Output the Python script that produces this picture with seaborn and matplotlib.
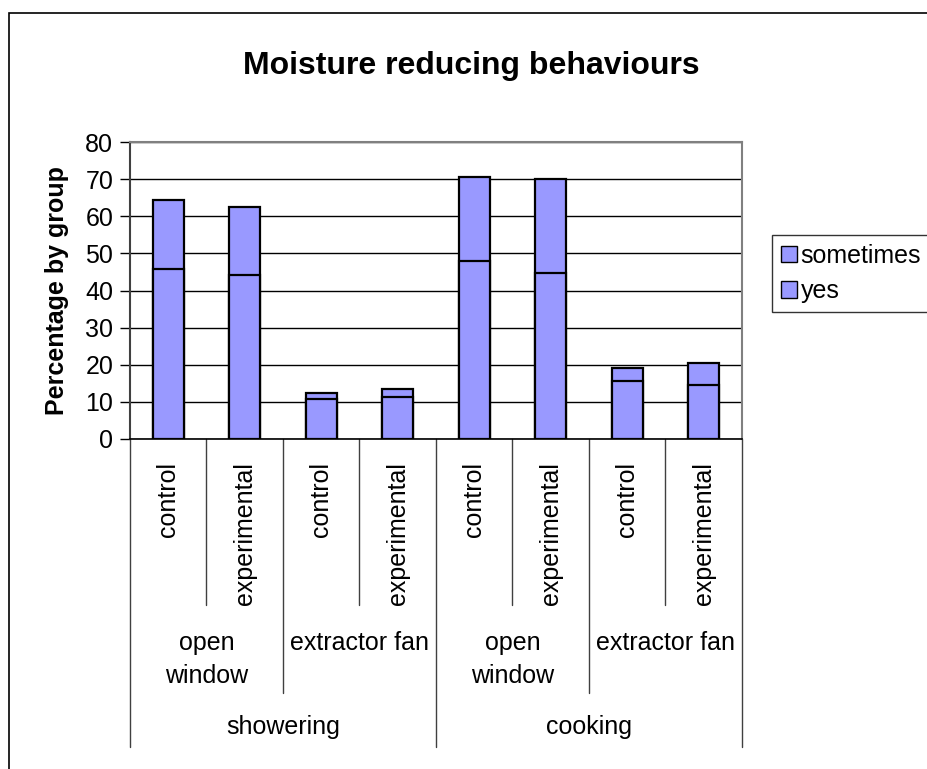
import matplotlib
matplotlib.use("Agg")
import matplotlib.pyplot as plt
import matplotlib.patches as mpatches
import seaborn as sns
import pandas as pd

# datos
activity  = ['showering'] * 4 + ['cooking'] * 4
method    = ['open\nwindow', 'open\nwindow', 'extractor fan', 'extractor fan'] * 2
group     = ['control', 'experimental'] * 4
yes       = [45.9, 44.1, 10.7, 11.2, 47.9, 44.6, 15.7, 14.5]
sometimes = [18.6, 18.3, 1.6, 2.2, 22.6, 25.3, 3.5, 5.9]

df = pd.DataFrame({'activity': activity, 'method': method, 'group': group,
                   'yes': yes, 'sometimes': sometimes})
df['key'] = df['activity'] + '|' + df['method'] + '|' + df['group']
df['total'] = df['yes'] + df['sometimes']
order = list(df['key'])

sns.set_style("white")
plt.rcParams['font.family'] = ['Liberation Sans', 'DejaVu Sans']
plt.rcParams['text.color'] = 'black'
plt.rcParams['axes.labelcolor'] = 'black'
plt.rcParams['ytick.color'] = 'black'

fill = '#9999FF'
W, H = 928, 769
fig = plt.figure(figsize=(W / 100, H / 100), dpi=100)
ax = fig.add_axes([130 / W, 1 - 439 / H, 612 / W, 297 / H])

# barras apiladas: total (sometimes) y encima la parte "yes"
sns.barplot(data=df, x='key', y='total', order=order, color=fill, width=0.4,
            edgecolor='black', linewidth=1.6, saturation=1, ax=ax)
sns.barplot(data=df, x='key', y='yes', order=order, color=fill, width=0.4,
            edgecolor='black', linewidth=1.6, saturation=1, ax=ax)

ax.set_ylim(0, 80)
ax.set_xlim(-0.5, len(order) - 0.5)
ax.set_yticks(range(0, 81, 10))
ax.tick_params(axis='y', labelsize=18, length=7, width=1, direction='out', left=True,
               pad=5, colors='black')
ax.set_xticks([])
ax.set_xlabel('')
ax.set_ylabel('Percentage by group', fontsize=18, fontweight='bold', labelpad=12,
              color='black')
ax.grid(axis='y', color='black', linewidth=1)
ax.set_axisbelow(True)
for s in ['top', 'right']:
    ax.spines[s].set_color('#808080')
    ax.spines[s].set_linewidth(1.5)
ax.spines['left'].set_color('#404040')
ax.spines['left'].set_linewidth(1.5)
ax.spines['bottom'].set_color('black')
ax.spines['bottom'].set_linewidth(1.2)

# eje de categorias multinivel
tr = ax.get_xaxis_transform()
n = len(order)
for i in range(n + 1):
    x = i - 0.5
    if i == 0 or i == n or activity[i] != activity[i - 1]:
        y_end = -1.037
    elif method[i] != method[i - 1]:
        y_end = -0.855
    else:
        y_end = -0.559
    ax.plot([x, x], [0, y_end], color='#404040', lw=1, transform=tr, clip_on=False)

for i, g in enumerate(group):
    ax.text(i, -0.077, g, rotation=90, ha='center', va='top', fontsize=18,
            color='black', transform=tr)

def spans(vals, keys):
    res = []
    start = 0
    for i in range(1, len(vals) + 1):
        if i == len(vals) or keys[i] != keys[start]:
            res.append((vals[start], (start + i - 1) / 2))
            start = i
    return res

mkeys = [a + m for a, m in zip(activity, method)]
for lab, xc in spans(method, mkeys):
    ax.text(xc, -0.647, lab, ha='center', va='top', fontsize=18, color='black',
            linespacing=1.48, transform=tr)
for lab, xc in spans(activity, activity):
    ax.text(xc, -0.97, lab, ha='center', va='center', fontsize=18, color='black',
            transform=tr)

fig.text(471 / W, 1 - 66 / H, 'Moisture reducing behaviours', ha='center', va='center',
         fontsize=23, fontweight='bold', color='black')

handles = [mpatches.Patch(facecolor=fill, edgecolor='black', linewidth=1, label='sometimes'),
           mpatches.Patch(facecolor=fill, edgecolor='black', linewidth=1, label='yes')]
leg = fig.legend(handles=handles, loc='upper left', bbox_to_anchor=(772 / W, 1 - 235 / H),
                 fontsize=18, frameon=True, fancybox=False, borderpad=0.35,
                 handlelength=0.65, handleheight=0.65, handletextpad=0.15,
                 labelspacing=0.45, borderaxespad=0)
leg.get_frame().set_edgecolor('black')
leg.get_frame().set_linewidth(1)

# borde del area del grafico (sin linea inferior visible)
fig.patches.append(mpatches.Rectangle((9 / W, -0.1), 1.0, 1.1 - 13 / H,
                                      transform=fig.transFigure, fill=False,
                                      edgecolor='black', linewidth=1.2))

fig.savefig('out.png', dpi=100)
